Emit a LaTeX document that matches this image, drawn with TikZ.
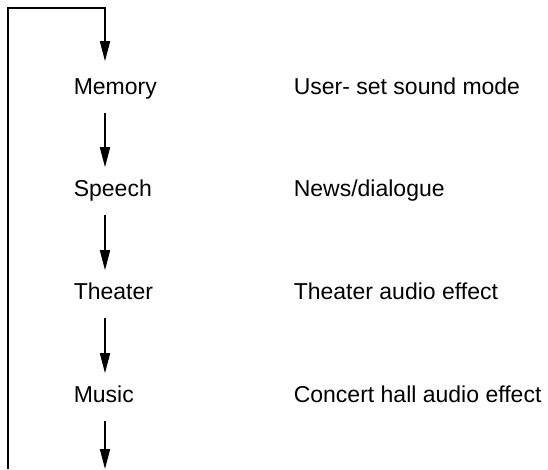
\documentclass[tikz,border=0pt]{standalone}
\usepackage{fontspec}
\setmainfont{Liberation Sans}
\usetikzlibrary{arrows.meta}

\begin{document}
\begin{tikzpicture}[x=1pt, y=-1pt, line width=1.6pt,
    font=\fontsize{23}{27}\selectfont]
    \tikzset{mode node/.style={anchor=base west, inner sep=0pt, text height=16pt, text depth=5pt},
             flow/.style={-{Triangle[length=20pt,width=10pt]}, shorten <=13pt, shorten >=12pt}}
    \useasboundingbox (0,0) rectangle (548,469);

    % Sound modes
    \node[mode node] (memory)  at (73,94)  {Memory};
    \node[mode node] (speech)  at (73,196) {Speech};
    \node[mode node] (theater) at (73,299) {Theater};
    \node[mode node] (music)   at (73,402) {Music};

    % Descriptions
    \node[mode node] (d_memory)  at (293,94)  {User- set sound mode};
    \node[mode node] (d_speech)  at (293,196) {News/dialogue};
    \node[mode node] (d_theater) at (293,299) {Theater audio effect};
    \node[mode node] (d_music)   at (293,402) {Concert hall audio effect};

    % Arrow column and loop back
    \coordinate (axis) at (105,0);
    \coordinate (loop) at (8,469);
    \coordinate (exit) at (105,469);

    \draw[-{Triangle[length=20pt,width=10pt]}, shorten >=16pt]
        (loop) |- (8,8) -| (memory.north -| axis);
    \draw[flow] (memory.south -| axis) -- (speech.north -| axis);
    \draw[flow] (speech.south -| axis) -- (theater.north -| axis);
    \draw[flow] (theater.south -| axis) -- (music.north -| axis);
    \draw[flow, shorten >=0pt] (music.south -| axis) -- (exit);
\end{tikzpicture}
\end{document}
